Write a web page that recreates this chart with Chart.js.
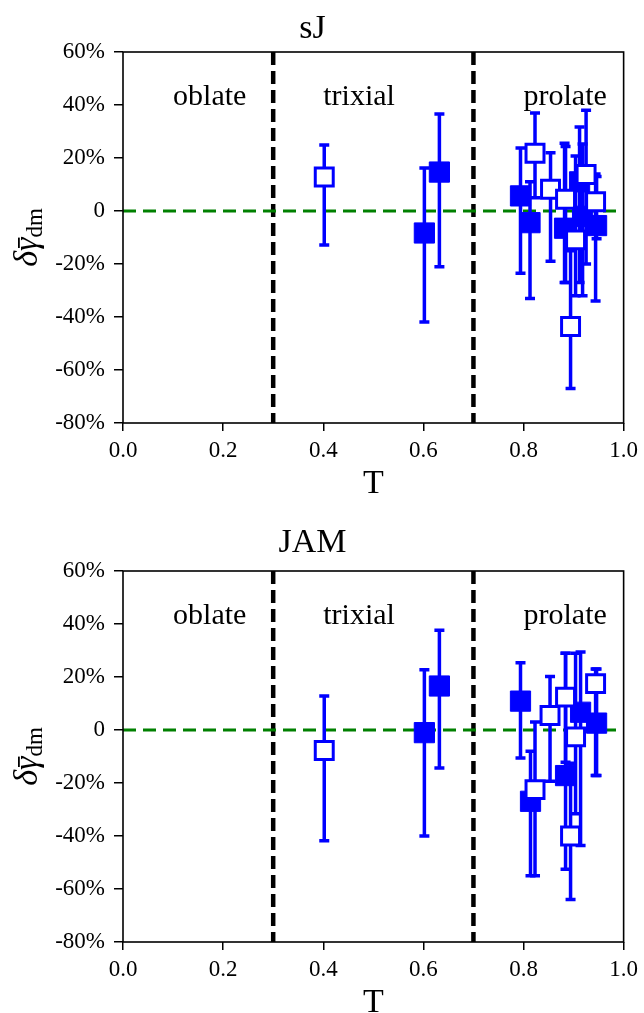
<!DOCTYPE html>
<html>
<head>
<meta charset="utf-8">
<script src="https://cdn.jsdelivr.net/npm/chart.js@4.4.1/dist/chart.umd.min.js"></script>
<style>
  body { margin: 0; background: #fff; }
  canvas { display: block; }
</style>
</head>
<body>
<canvas id="sj" width="644" height="519"></canvas>
<canvas id="jam" width="644" height="494"></canvas>
<script>
// axis ticks and shape boundaries
const xTicks = [0.0, 0.2, 0.4, 0.6, 0.8, 1.0];
const yTicks = [-80, -60, -40, -20, 0, 20, 40, 60];
const shapeCuts = [0.3, 0.7];
const regionNames = ["oblate", "trixial", "prolate"];
const regionStart = [0.1, 0.4, 0.8];
const regionLabelY = 40;

// sJ panel: filled squares
const sjFilledT = [0.602, 0.632, 0.794, 0.813, 0.882, 0.912, 0.918, 0.946];
const sjFilledY = [-8.3, 14.7, 5.7, -4.4, -6.5, 11.0, -2.0, -5.5];
const sjFilledHi = [16.2, 36.6, 23.8, 11.0, 25.6, 31.7, 25.3, 13.0];
const sjFilledLo = [-41.9, -21.0, -23.5, -33.0, -27.0, -27.0, -32.0, -10.5];
// sJ panel: open squares
const sjOpenT = [0.402, 0.823, 0.854, 0.884, 0.925, 0.944, 0.904, 0.894];
const sjOpenY = [12.8, 21.8, 8.2, 4.4, 13.8, 3.5, -10.9, -43.6];
const sjOpenHi = [24.9, 37.0, 22.0, 24.3, 38.0, 14.0, 20.8, -15.0];
const sjOpenLo = [-12.8, 5.0, -19.0, -27.0, -20.0, -34.0, -32.0, -67.0];

// JAM panel: filled squares
const jamFilledT = [0.602, 0.632, 0.794, 0.814, 0.884, 0.914, 0.946];
const jamFilledY = [-1.0, 16.6, 10.9, -26.9, -17.2, 6.7, 2.6];
const jamFilledHi = [22.7, 37.6, 25.4, -8.0, 29.0, 29.4, 23.0];
const jamFilledLo = [-40.0, -14.3, -10.6, -55.0, -52.5, -43.6, -17.2];
// JAM panel: open squares
const jamOpenT = [0.402, 0.823, 0.853, 0.884, 0.944, 0.904, 0.894];
const jamOpenY = [-7.7, -22.5, 5.5, 12.4, 17.5, -2.6, -40.0];
const jamOpenHi = [12.8, 3.0, 20.2, 29.0, 23.0, 29.0, -12.5];
const jamOpenLo = [-41.8, -55.0, -19.3, -12.2, -17.2, -31.6, -64.0];

const BLUE = "#0000ff";
const GREEN = "#008000";
const SERIF = '"Liberation Serif", "Times New Roman", serif';

function points(ts, ys) {
    return ts.map((t, i) => ({ x: t, y: ys[i] }));
}

// error bars drawn just before each marker dataset, frame and labels around
const decor = {
    id: "decor",
    beforeDatasetsDraw(chart) {
        const { ctx, scales: { x, y } } = chart;
        ctx.save();
        ctx.fillStyle = "#000";
        ctx.font = "30px " + SERIF;
        ctx.textAlign = "left";
        ctx.textBaseline = "alphabetic";
        regionNames.forEach((name, i) => {
            ctx.fillText(name, x.getPixelForValue(regionStart[i]), y.getPixelForValue(regionLabelY));
        });
        ctx.restore();
    },
    beforeDatasetDraw(chart, args) {
        const ds = chart.data.datasets[args.index];
        if (!ds.errHi) return;
        const { ctx, scales: { x, y } } = chart;
        ctx.save();
        ctx.strokeStyle = BLUE;
        ctx.lineWidth = 3.5;
        ds.data.forEach((p, i) => {
            const px = x.getPixelForValue(p.x);
            const top = y.getPixelForValue(ds.errHi[i]);
            const bot = y.getPixelForValue(ds.errLo[i]);
            ctx.beginPath();
            ctx.moveTo(px, top);
            ctx.lineTo(px, bot);
            ctx.moveTo(px - 5, top);
            ctx.lineTo(px + 5, top);
            ctx.moveTo(px - 5, bot);
            ctx.lineTo(px + 5, bot);
            ctx.stroke();
        });
        ctx.restore();
    },
    afterDraw(chart) {
        const { ctx, chartArea: a } = chart;
        ctx.save();
        ctx.strokeStyle = "#000";
        ctx.lineWidth = 1.6;
        ctx.strokeRect(a.left, a.top, a.right - a.left, a.bottom - a.top);

        // x axis title
        ctx.fillStyle = "#000";
        ctx.font = "34px " + SERIF;
        ctx.textAlign = "center";
        ctx.textBaseline = "alphabetic";
        ctx.fillText("T", (a.left + a.right) / 2, a.bottom + 70);

        // y axis title, rotated
        ctx.translate(37, (a.top + a.bottom) / 2);
        ctx.rotate(-Math.PI / 2);
        ctx.textAlign = "left";
        ctx.font = "italic 34px " + SERIF;
        const wd = ctx.measureText("δ").width;
        const wg = ctx.measureText("γ").width;
        ctx.font = "23px " + SERIF;
        const ws = ctx.measureText("dm").width;
        const x0 = -(wd + wg + ws) / 2;
        ctx.font = "italic 34px " + SERIF;
        ctx.fillText("δγ", x0, 0);
        ctx.fillRect(x0 + wd + 3, -19, wg - 3, 1.8);
        ctx.font = "23px " + SERIF;
        ctx.fillText("dm", x0 + wd + wg, 5);
        ctx.restore();
    }
};

function makeChart(canvas, title, titlePad, filled, open) {
    const H = canvas.height;
    return new Chart(canvas.getContext("2d"), {
        type: "scatter",
        data: {
            datasets: [
                {
                    label: "open",
                    data: points(open.t, open.y),
                    errHi: open.hi,
                    errLo: open.lo,
                    pointStyle: "rect",
                    pointRadius: 12.7,
                    borderWidth: 3,
                    borderColor: BLUE,
                    backgroundColor: "#ffffff",
                    order: 0
                },
                {
                    label: "filled",
                    data: points(filled.t, filled.y),
                    errHi: filled.hi,
                    errLo: filled.lo,
                    pointStyle: "rect",
                    pointRadius: 14.3,
                    borderWidth: 1,
                    borderColor: BLUE,
                    backgroundColor: BLUE,
                    order: 1
                },
                {
                    label: "zero",
                    data: [{ x: 0, y: 0 }, { x: 1, y: 0 }],
                    showLine: true,
                    borderColor: GREEN,
                    borderDash: [13, 7],
                    borderWidth: 3,
                    pointRadius: 0,
                    order: 2
                },
                ...shapeCuts.map(c => ({
                    label: "cut",
                    data: [{ x: c, y: yTicks[yTicks.length - 1] }, { x: c, y: yTicks[0] }],
                    showLine: true,
                    borderColor: "#000",
                    borderDash: [13, 6],
                    borderWidth: 4.5,
                    pointRadius: 0,
                    order: 3
                }))
            ]
        },
        options: {
            responsive: false,
            animation: false,
            events: [],
            layout: { padding: { left: 0, right: 19, top: 0, bottom: 0 } },
            plugins: {
                legend: { display: false },
                tooltip: { enabled: false },
                title: {
                    display: true,
                    text: title,
                    color: "#000",
                    font: { family: SERIF, size: 34, weight: "normal" },
                    padding: titlePad
                }
            },
            scales: {
                x: {
                    type: "linear",
                    min: xTicks[0],
                    max: xTicks[xTicks.length - 1],
                    afterBuildTicks: s => { s.ticks = xTicks.map(v => ({ value: v })); },
                    afterFit: s => { s.height = H - 423; },
                    ticks: {
                        callback: v => v.toFixed(1),
                        color: "#000",
                        font: { family: SERIF, size: 23 },
                        padding: 6,
                        autoSkip: false,
                        maxRotation: 0
                    },
                    grid: { drawOnChartArea: false, tickLength: 8, color: "#000", lineWidth: 1.5 },
                    border: { display: false }
                },
                y: {
                    type: "linear",
                    min: yTicks[0],
                    max: yTicks[yTicks.length - 1],
                    afterBuildTicks: s => { s.ticks = yTicks.map(v => ({ value: v })); },
                    afterFit: s => { s.width = 123; },
                    ticks: {
                        callback: v => (v === 0 ? "0" : v + "%"),
                        color: "#000",
                        font: { family: SERIF, size: 23 },
                        padding: 9,
                        autoSkip: false
                    },
                    grid: { drawOnChartArea: false, tickLength: 9, color: "#000", lineWidth: 1.5 },
                    border: { display: false }
                }
            }
        },
        plugins: [decor]
    });
}

makeChart(document.getElementById("sj"), "sJ", { top: 8.6, bottom: 2.6 },
    { t: sjFilledT, y: sjFilledY, hi: sjFilledHi, lo: sjFilledLo },
    { t: sjOpenT, y: sjOpenY, hi: sjOpenHi, lo: sjOpenLo });

makeChart(document.getElementById("jam"), "JAM", { top: 4, bottom: 7.2 },
    { t: jamFilledT, y: jamFilledY, hi: jamFilledHi, lo: jamFilledLo },
    { t: jamOpenT, y: jamOpenY, hi: jamOpenHi, lo: jamOpenLo });
</script>
</body>
</html>
